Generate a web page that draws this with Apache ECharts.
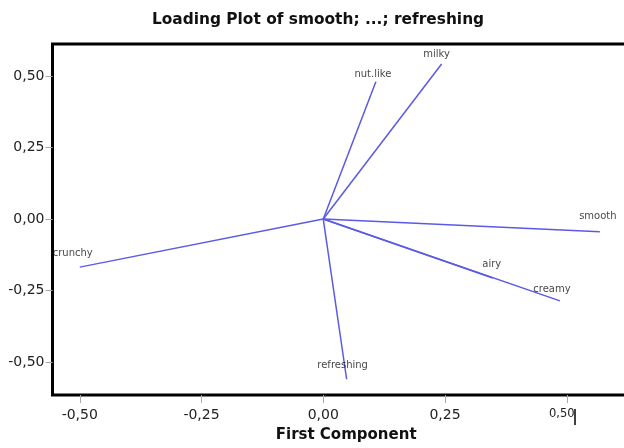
<!DOCTYPE html>
<html>
<head>
<meta charset="utf-8">
<script src="https://cdn.jsdelivr.net/npm/echarts@6/dist/echarts.min.js"></script>
<style>
html,body{margin:0;padding:0;background:#fff;overflow:hidden;}
#c{width:640px;height:448px;}
</style>
</head>
<body>
<div id="c"></div>
<script>
const variables = ['smooth', 'milky', 'nut.like', 'airy', 'creamy', 'crunchy', 'refreshing'];
const firstComponent  = [0.568, 0.243, 0.108, 0.348, 0.486, -0.500, 0.048];
const secondComponent = [-0.044, 0.542, 0.480, -0.206, -0.286, -0.168, -0.560];
const tickValues = [-0.5, -0.25, 0, 0.25, 0.5];

// label placement nudges (style only, pixels)
const labelNudge = {
  'smooth': [-2, -10], 'milky': [-5, -5], 'nut.like': [-3, -2], 'airy': [-1, -9],
  'creamy': [-8, -6], 'crunchy': [-7, -9], 'refreshing': [-4, -9]
};

const fmt = v => v.toFixed(2).replace('.', ',');
const lineColor = '#5a5ae6';
const font = 'DejaVu Sans, Verdana, sans-serif';

const lineSeries = variables.map((name, i) => ({
  type: 'line',
  name: name,
  data: [[0, 0], [firstComponent[i], secondComponent[i]]],
  symbol: 'none',
  lineStyle: { color: lineColor, width: 1.5 },
  silent: true,
  z: 2
}));

const labelSeries = {
  type: 'scatter',
  symbolSize: 0,
  data: variables.map((name, i) => ({
    name: name,
    value: [firstComponent[i], secondComponent[i]],
    label: { offset: labelNudge[name] }
  })),
  label: {
    show: true,
    position: 'top',
    distance: 0,
    formatter: p => p.name,
    fontFamily: font,
    fontSize: 10,
    color: '#111'
  },
  silent: true,
  z: 3
};

const chart = echarts.init(document.getElementById('c'), null, { renderer: 'canvas' });
chart.setOption({
  animation: false,
  backgroundColor: '#fff',
  title: {
    text: 'Loading Plot of smooth; ...; refreshing',
    left: 313,
    top: 7,
    textAlign: 'center',
    textStyle: { fontFamily: font, fontSize: 15.4, fontWeight: 'bold', color: '#111' }
  },
  grid: {
    left: 52.5, top: 44, bottom: 53, right: 0.2,
    show: true, borderColor: '#000', borderWidth: 3, backgroundColor: 'transparent'
  },
  xAxis: {
    type: 'value',
    min: -0.556, max: 0.65,
    name: 'First Component',
    nameLocation: 'middle',
    nameGap: 33,
    nameTextStyle: { fontFamily: font, fontSize: 15, fontWeight: 'bold', color: '#111' },
    axisLine: { show: false, onZero: false },
    splitLine: { show: false },
    axisTick: { show: true, length: 8, customValues: tickValues, lineStyle: { color: '#aaa', width: 1 } },
    axisLabel: {
      customValues: tickValues,
      margin: 13,
      fontFamily: font, fontSize: 14, color: '#222',
      formatter: v => Math.abs(v - 0.5) < 1e-9 ? '{s|' + fmt(v) + '}' : fmt(v),
      rich: { s: { fontFamily: font, fontSize: 11.5, color: '#222', padding: [0, 10, 0, 0] } }
    }
  },
  yAxis: {
    type: 'value',
    min: -0.615, max: 0.612,
    axisLine: { show: false, onZero: false },
    splitLine: { show: false },
    axisTick: { show: true, length: 7, customValues: tickValues, lineStyle: { color: '#aaa', width: 1 } },
    axisLabel: {
      customValues: tickValues,
      margin: 8,
      fontFamily: font, fontSize: 14, color: '#222',
      padding: [0, 0, 6, 0],
      formatter: v => fmt(v)
    }
  },
  graphic: [{
    type: 'line',
    shape: { x1: 575, y1: 409, x2: 575, y2: 425 },
    style: { stroke: '#000', lineWidth: 1.5 }
  }],
  series: lineSeries.concat([labelSeries])
});
</script>
</body>
</html>
